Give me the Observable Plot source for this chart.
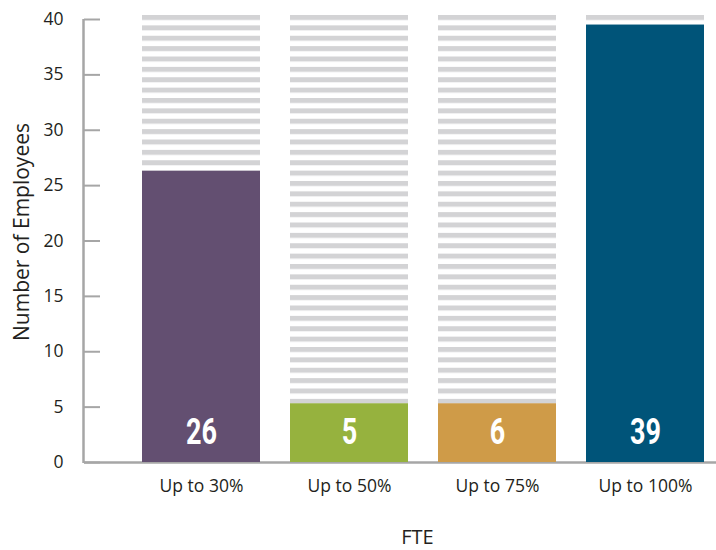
<!DOCTYPE html>
<html>
<head>
<meta charset="utf-8">
<script src="https://cdn.jsdelivr.net/npm/d3@7"></script>
<script src="https://cdn.jsdelivr.net/npm/@observablehq/plot@0.6"></script>
<style>
  html, body { margin: 0; padding: 0; background: #ffffff; }
</style>
</head>
<body>
<div id="chart"></div>
<script>
// ---- data ----
const categories = ["Up to 30%", "Up to 50%", "Up to 75%", "Up to 100%"];
const counts = [26, 5, 6, 39];                 // printed values
const barHeights = [26.3, 5.3, 5.3, 39.5];     // drawn bar heights
const backgroundTop = [40.4, 40.4, 40.4, 40.4]; // striped background bars
const barColors = ["#634f71", "#96b23e", "#cf9b48", "#005479"];
const yTicks = [0, 5, 10, 15, 20, 25, 30, 35, 40];
const yTitle = "Number of Employees";
const xTitle = "FTE";

const data = categories.map((c, i) => ({
  category: c, count: counts[i], height: barHeights[i], top: backgroundTop[i], color: barColors[i]
}));

const axisGray = "#a6a6a6";
const W = 716, H = 550, ML = 84, MT = 19, MB = 88;

const chart = Plot.plot({
  width: W,
  height: H,
  marginLeft: ML,
  marginRight: 0,
  marginTop: MT,
  marginBottom: MB,
  style: { fontFamily: "'Open Sans', sans-serif", fontSize: "17px", color: "#231f20", background: "#ffffff" },
  x: { domain: categories, range: [127, 720], paddingInner: 0.2, paddingOuter: 0.1, axis: null },
  y: { domain: [0, 40], axis: null },
  color: { type: "identity" },
  marks: [
    Plot.ruleY([0], { stroke: axisGray, strokeWidth: 2.5 }),
    Plot.barY(data, { x: "category", y: "top", fill: "url(#stripes)" }),
    Plot.barY(data, { x: "category", y: "height", fill: "color" }),
    Plot.ruleY(yTicks, { stroke: axisGray, strokeWidth: 2, insetRight: W - ML - 16 }),
    // y tick labels
    Plot.text(yTicks, {
      y: d => d, text: d => String(d), frameAnchor: "left", textAnchor: "end",
      dx: -21, fontSize: 17.5, fill: "#231f20"
    }),
    // x tick labels
    Plot.axisX({ tickSize: 0, tickPadding: 17, label: null, fontSize: 17.5, fill: "#231f20" }),
    // value labels inside bars
    Plot.text(data, {
      x: "category", y: 0, text: d => String(d.count), dy: -30.5,
      fill: "#ffffff", fontSize: 36, fontWeight: "bold",
      fontFamily: "Roboto, 'DejaVu Sans', sans-serif"
    }),
    Plot.text([yTitle], {
      frameAnchor: "left", textAnchor: "middle", lineAnchor: "middle",
      rotate: -90, dx: -62, dy: -9, fontSize: 21, fill: "#231f20"
    }),
    Plot.text([xTitle], {
      frameAnchor: "bottom", textAnchor: "middle", lineAnchor: "middle",
      dx: 17, dy: 75, fontSize: 20, fill: "#231f20"
    })
  ]
});

const svg = d3.select(chart);

// stripe pattern used as the fill of the background bars
const pat = svg.insert("defs", ":first-child").append("pattern")
  .attr("id", "stripes")
  .attr("patternUnits", "userSpaceOnUse")
  .attr("x", 0).attr("y", 15)
  .attr("width", 10).attr("height", 10.375);
pat.append("rect").attr("x", 0).attr("y", 0).attr("width", 10).attr("height", 5).attr("fill", "#d3d3d5");

// condensed look for the value labels (tall, narrow digits)
svg.selectAll('g[fill="#ffffff"] text').each(function () {
  const n = this.textContent.length;
  d3.select(this).attr("textLength", 15.5 * n).attr("lengthAdjust", "spacingAndGlyphs");
});

// vertical axis line along the y scale
const ys = chart.scale("y");
svg.append("line")
  .attr("x1", ML - 0.5).attr("x2", ML - 0.5)
  .attr("y1", ys.apply(40)).attr("y2", ys.apply(0) + 1)
  .attr("stroke", axisGray).attr("stroke-width", 2.5);

document.getElementById("chart").appendChild(chart);
</script>
</body>
</html>
